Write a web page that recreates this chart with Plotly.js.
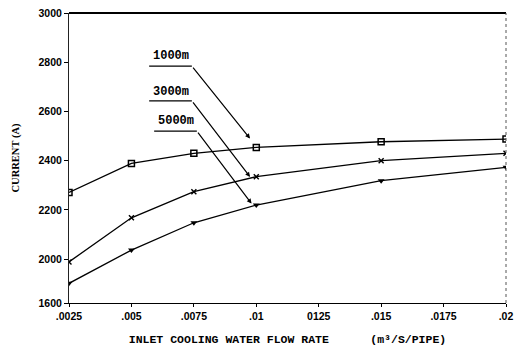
<!DOCTYPE html>
<html>
<head>
<meta charset="utf-8">
<script src="https://cdn.plot.ly/plotly-3.0.1.min.js"></script>
<style>html,body{margin:0;padding:0;background:#fff;}#chart{width:515px;height:352px;}</style>
</head>
<body>
<div id="chart"></div>
<script>
// Data
const flowRate = [0.0025, 0.005, 0.0075, 0.01, 0.015, 0.02];
const current1000m = [2271, 2389, 2430, 2454, 2477, 2488];
const current3000m = [1989, 2168, 2274, 2335, 2400, 2430];
const current5000m = [1902, 2037, 2148, 2220, 2319, 2373];
const seriesNames = ['1000m', '3000m', '5000m'];
const xTickVals = [0.0025, 0.005, 0.0075, 0.01, 0.0125, 0.015, 0.0175, 0.02];
const xTickText = ['.0025', '.005', '.0075', '.01', '0125', '.015', '.0175', '.02'];
const yTickVals = [1822, 2000, 2200, 2400, 2600, 2800, 3000];
const yTickText = ['1600', '2000', '2200', '2400', '2600', '2800', '3000'];

const lineStyle = {color: '#000', width: 1.3};
const traces = [
  {x: flowRate, y: current1000m, name: seriesNames[0], mode: 'lines+markers', line: lineStyle,
   marker: {symbol: 'square-open', size: 6, color: '#000', line: {width: 1.5, color: '#000'}}},
  {x: flowRate, y: current3000m, name: seriesNames[1], mode: 'lines+markers', line: lineStyle,
   marker: {symbol: 'x-thin-open', size: 5, color: '#000', line: {width: 1.4, color: '#000'}}},
  {x: flowRate, y: current5000m, name: seriesNames[2], mode: 'lines+markers', line: lineStyle,
   marker: {symbol: 'triangle-down', size: 6, color: '#000'}}
];

const monoFont = {family: 'Liberation Mono, DejaVu Sans Mono, monospace', size: 12, color: '#000'};
// leader label positions (x start, x end, underline y, text y, arrow head x, arrow head y)
const leaders = [
  {label: seriesNames[0], x0: 0.00571, x1: 0.00742, yl: 2784, yt: 2827, hx: 0.00975, hy: 2490},
  {label: seriesNames[1], x0: 0.00571, x1: 0.00742, yl: 2643, yt: 2681, hx: 0.00975, hy: 2334},
  {label: seriesNames[2], x0: 0.00591, x1: 0.00762, yl: 2520, yt: 2563, hx: 0.00981, hy: 2226}
];

const shapes = [
  {type: 'line', xref: 'paper', yref: 'paper', x0: 0, x1: 1, y0: 1, y1: 1, line: {color: '#000', width: 2}},
  {type: 'line', xref: 'paper', yref: 'paper', x0: 1, x1: 1, y0: 0, y1: 1, line: {color: '#555', width: 1, dash: 'dot'}}
];
const annotations = [];
leaders.forEach(l => {
  shapes.push({type: 'line', xref: 'x', yref: 'y', x0: l.x0, x1: l.x1, y0: l.yl, y1: l.yl, line: {color: '#000', width: 1.3}});
  annotations.push({x: (l.x0 + l.x1) / 2, y: l.yt, xref: 'x', yref: 'y', text: '<b>' + l.label + '</b>',
    showarrow: false, font: monoFont, xanchor: 'center', yanchor: 'middle'});
  annotations.push({x: l.hx, y: l.hy, xref: 'x', yref: 'y', ax: l.x1, ay: l.yl, axref: 'x', ayref: 'y',
    text: '', showarrow: true, arrowhead: 2, arrowsize: 0.8, arrowwidth: 1.2, arrowcolor: '#000'});
});

const tickFont = {family: 'Liberation Sans, Arial, sans-serif', size: 10.5, color: '#000', weight: 'bold'};
const layout = {
  width: 515, height: 352,
  margin: {l: 69, r: 9, t: 13, b: 49},
  paper_bgcolor: '#fff', plot_bgcolor: '#fff',
  showlegend: false,
  xaxis: {
    range: [0.0025, 0.02], tickvals: xTickVals, ticktext: xTickText,
    showgrid: false, zeroline: false, showline: true, linecolor: '#000', linewidth: 1,
    ticks: 'outside', ticklen: 3, tickcolor: '#000', tickfont: tickFont, ticklabeloverflow: 'allow',
    title: {text: '<b>INLET COOLING WATER FLOW RATE\u00a0\u00a0\u00a0\u00a0\u00a0\u00a0(m\u00b3/S/PIPE)</b>',
      font: {family: 'Liberation Mono, DejaVu Sans Mono, monospace', size: 11.5, color: '#000'}, standoff: 14}
  },
  yaxis: {
    range: [1822, 3000], tickvals: yTickVals, ticktext: yTickText,
    showgrid: false, zeroline: false, showline: true, linecolor: '#222', linewidth: 1,
    ticks: 'outside', ticklen: 4, tickcolor: '#000', tickfont: tickFont,
    title: {text: '<b>CURRENT (A)</b>', font: {family: 'Liberation Serif, serif', size: 10.5, color: '#000'}, standoff: 16}
  },
  shapes: shapes,
  annotations: annotations
};

Plotly.newPlot('chart', traces, layout, {displayModeBar: false, staticPlot: true});
</script>
</body>
</html>
